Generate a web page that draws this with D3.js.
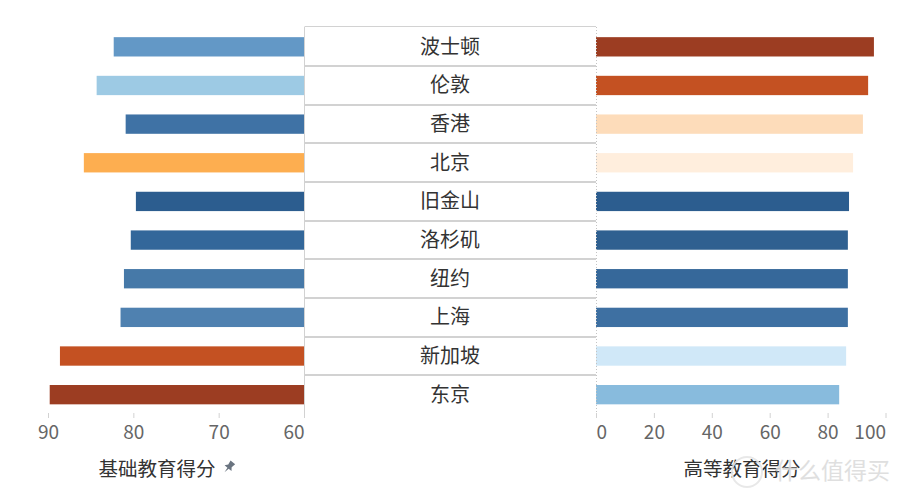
<!DOCTYPE html>
<html><head><meta charset="utf-8">
<script src="https://cdn.jsdelivr.net/npm/d3@7"></script>
<style>html,body{margin:0;background:#fff}svg{display:block}text{font-family:"Noto Sans CJK SC","Noto Sans",sans-serif}</style>
</head><body><svg id="c" width="900" height="500"></svg>
<script>
const cities=["波士顿","伦敦","香港","北京","旧金山","洛杉矶","纽约","上海","新加坡","东京"];
const basicScores=[82.3,84.3,80.9,85.8,79.7,80.3,81.1,81.5,88.6,89.8];
const higherScores=[96,94,92.2,88.8,87.4,87,87,87,86.4,84];
const basicColors=["#6398c6","#9dcae4","#3f72a5","#fdae50","#2c5d8f","#33679a","#4679a8","#4f81b0","#c45122","#9c3d22"];
const higherColors=["#9c3d22","#c45122","#fddcba","#ffeedd","#2c5d8f","#2f6090","#36689a","#3e70a2","#d0e8f8","#88bbdd"];
const basicTicks=[90,80,70,60];
const higherTicks=[0,20,40,60,80,100];
const basicTitle="基础教育得分",higherTitle="高等教育得分",watermark="什么值得买";

const svg=d3.select("#c");
const y=d3.scaleBand().domain(cities).range([27.5,414]).paddingInner(0.5).paddingOuter(0.25);
const xL=d3.scaleLinear().domain([60,90]).range([304,48]);
const xR=d3.scaleLinear().domain([0,100]).range([596,885.5]);
const rowTop=d=>y(d)-y.step()*0.25;
const grey="#d2d2d2";

svg.append("g").selectAll("rect").data(cities).join("rect")
 .attr("x",(d,i)=>xL(basicScores[i])).attr("y",d=>y(d)).attr("height",y.bandwidth())
 .attr("width",(d,i)=>xL(60)-xL(basicScores[i])).attr("fill",(d,i)=>basicColors[i]);
svg.append("g").selectAll("rect").data(cities).join("rect")
 .attr("x",xR(0)).attr("y",d=>y(d)).attr("height",y.bandwidth())
 .attr("width",(d,i)=>xR(higherScores[i])-xR(0)).attr("fill",(d,i)=>higherColors[i]);

// centre column
svg.append("g").selectAll("line").data(cities).join("line")
 .attr("x1",304.5).attr("x2",596).attr("y1",d=>Math.round(rowTop(d))-.5+(d==="波士顿"?0:.5)).attr("y2",d=>Math.round(rowTop(d))-.5+(d==="波士顿"?0:.5))
 .attr("stroke",grey).attr("stroke-width",(d,i)=>i?2:1);
svg.append("line").attr("x1",304.5).attr("x2",304.5).attr("y1",27).attr("y2",418).attr("stroke",grey);
svg.append("line").attr("x1",596.5).attr("x2",596.5).attr("y1",27).attr("y2",418).attr("stroke","#c4c4c4").attr("stroke-dasharray","1 2");
svg.append("g").selectAll("text").data(cities).join("text")
 .attr("x",450).attr("y",d=>y(d)+y.bandwidth()/2+7).attr("text-anchor","middle")
 .attr("font-size",20).attr("fill","#333").text(d=>d);

function styleAxis(g,anchorFor){
 g.select(".domain").remove();
 g.selectAll(".tick line").attr("stroke",grey);
 g.selectAll(".tick text").attr("font-size",19).attr("fill","#666").attr("dy",0).attr("y",26)
  .attr("text-anchor",anchorFor);
}
svg.append("g").attr("transform","translate(0,413)")
 .call(d3.axisBottom(xL).tickValues(basicTicks).tickSize(5).tickFormat(d3.format("d")))
 .call(g=>styleAxis(g,d=>d===60?"end":"middle"));
svg.append("g").attr("transform","translate(0,413)")
 .call(d3.axisBottom(xR).tickValues(higherTicks).tickSize(5).tickFormat(d3.format("d")))
 .call(g=>styleAxis(g,d=>d===0?"start":d===100?"end":"middle"));
svg.selectAll(".tick text").filter(d=>d===0).attr("dx",0);

svg.append("text").attr("x",157).attr("y",476).attr("text-anchor","middle").attr("font-size",19.5).attr("fill","#333").text(basicTitle);
svg.append("path").attr("transform","translate(229,467) rotate(40)")
 .attr("d","M-3,-6H3L2.2,-1.5L4.5,1.5H0.8L0,7L-0.8,1.5H-4.5L-2.2,-1.5Z").attr("fill","#6a7480");
svg.append("text").attr("x",742).attr("y",476).attr("text-anchor","middle").attr("font-size",19.5).attr("fill","#333").text(higherTitle);

// faint watermark overlay as seen in the picture
const wm=svg.append("g").attr("opacity",0.9);
wm.append("circle").attr("cx",747).attr("cy",472).attr("r",15).attr("fill","none").attr("stroke","#e6e6e6").attr("stroke-width",2);
wm.append("text").attr("x",775).attr("y",479).attr("font-size",23).attr("fill","#dcdcdc").attr("stroke","#fff").attr("stroke-width",.6).attr("paint-order","stroke").text(watermark);
</script></body></html>
